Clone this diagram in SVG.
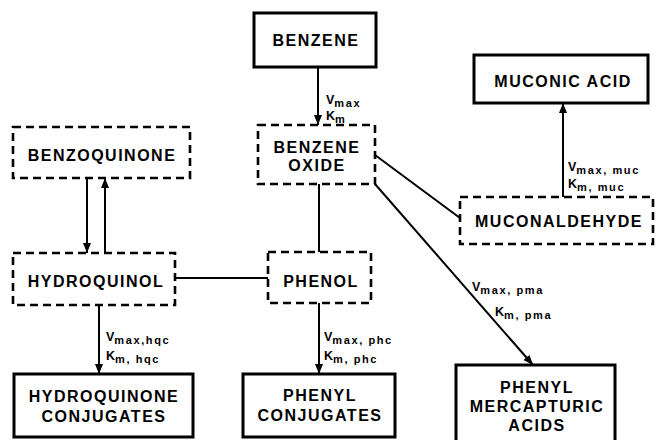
<svg xmlns="http://www.w3.org/2000/svg" width="657" height="440" viewBox="0 0 657 440">
<defs>
<marker id="ah" markerUnits="userSpaceOnUse" markerWidth="12" markerHeight="10" refX="10" refY="4" orient="auto">
<path d="M0,0 L10,4 L0,8 Z" fill="#000"/>
</marker>
<style>
.solid{fill:#fff;stroke:#000;stroke-width:3}
.dash{fill:#fff;stroke:#000;stroke-width:2.6;stroke-dasharray:8 5}
.t{font-family:"Liberation Sans",Arial,sans-serif;font-weight:bold;font-size:16px;letter-spacing:1.5px;text-anchor:middle;fill:#000}
.l{font-family:"Liberation Sans",Arial,sans-serif;font-weight:bold;font-size:12.5px;fill:#000}
.s{font-size:11px;letter-spacing:1.6px}
.c{stroke:#000;stroke-width:2;fill:none}
.a{stroke:#000;stroke-width:2;fill:none;marker-end:url(#ah)}
</style>
</defs>
<rect width="657" height="440" fill="#fff"/>
<g id="connectors">
<line class="a" x1="318" y1="67" x2="318" y2="125"/>
<line class="c" x1="319" y1="184" x2="319" y2="252"/>
<line class="c" x1="175" y1="278" x2="268" y2="278"/>
<line class="a" x1="87" y1="178" x2="87" y2="253"/>
<line class="a" x1="105" y1="253" x2="105" y2="178"/>
<line class="c" x1="375" y1="155" x2="460" y2="218"/>
<line class="a" x1="375" y1="184" x2="533" y2="365"/>
<line class="a" x1="563" y1="197" x2="563" y2="103"/>
<line class="a" x1="99" y1="305" x2="99" y2="374"/>
<line class="a" x1="319" y1="303" x2="319" y2="374"/>
<text class="l" x="326" y="104">V<tspan class="s" dy="3">max</tspan></text>
<text class="l" x="326" y="120">K<tspan class="s" dy="3">m</tspan></text>
<text class="l" x="568" y="171">V<tspan class="s" dy="3">max, muc</tspan></text>
<text class="l" x="568" y="188">K<tspan class="s" dy="3">m, muc</tspan></text>
<text class="l" x="472" y="291">V<tspan class="s" dy="3">max, pma</tspan></text>
<text class="l" x="495" y="316">K<tspan class="s" dy="3">m, pma</tspan></text>
<text class="l" x="106" y="341">V<tspan class="s" dy="3">max,hqc</tspan></text>
<text class="l" x="106" y="360">K<tspan class="s" dy="3">m, hqc</tspan></text>
<text class="l" x="324" y="341">V<tspan class="s" dy="3">max, phc</tspan></text>
<text class="l" x="324" y="360">K<tspan class="s" dy="3">m, phc</tspan></text>
</g>
<g id="benzene">
<rect class="solid" x="254" y="13" width="122" height="54"/>
<text class="t" x="316" y="46">BENZENE</text>
</g>
<g id="benzene-oxide">
<rect class="dash" x="258" y="125" width="117" height="59"/>
<text class="t" x="317" y="153">BENZENE</text>
<text class="t" x="317" y="171">OXIDE</text>
</g>
<g id="benzoquinone">
<rect class="dash" x="13" y="127" width="177" height="51"/>
<text class="t" x="102" y="161">BENZOQUINONE</text>
</g>
<g id="hydroquinol">
<rect class="dash" x="13" y="253" width="162" height="52"/>
<text class="t" x="96" y="287">HYDROQUINOL</text>
</g>
<g id="phenol">
<rect class="dash" x="268" y="252" width="103" height="51"/>
<text class="t" x="321" y="287">PHENOL</text>
</g>
<g id="muconaldehyde">
<rect class="dash" x="460" y="197" width="193" height="47"/>
<text class="t" x="559" y="227">MUCONALDEHYDE</text>
</g>
<g id="muconic-acid">
<rect class="solid" x="474" y="55" width="174" height="48"/>
<text class="t" x="563" y="87">MUCONIC ACID</text>
</g>
<g id="hydroquinone-conjugates">
<rect class="solid" x="14" y="374" width="179" height="63"/>
<text class="t" x="104" y="402">HYDROQUINONE</text>
<text class="t" x="104" y="422">CONJUGATES</text>
</g>
<g id="phenyl-conjugates">
<rect class="solid" x="243" y="374" width="152" height="63"/>
<text class="t" x="320" y="401">PHENYL</text>
<text class="t" x="320" y="421">CONJUGATES</text>
</g>
<g id="phenyl-mercapturic-acids">
<rect class="solid" x="456" y="365" width="159" height="78"/>
<text class="t" x="537" y="393">PHENYL</text>
<text class="t" x="537" y="412">MERCAPTURIC</text>
<text class="t" x="537" y="431">ACIDS</text>
</g>
</svg>
